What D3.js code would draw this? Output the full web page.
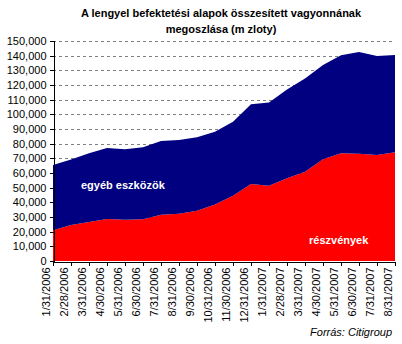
<!DOCTYPE html>
<html><head><meta charset="utf-8">
<script src="https://cdn.jsdelivr.net/npm/d3@7"></script>
<style>body{margin:0;background:#fff}svg{display:block}text{font-family:"Liberation Sans",Arial,sans-serif}</style>
</head><body>
<svg id="c" width="402" height="344"></svg>
<script>
const categories = ["1/31/2006","2/28/2006","3/31/2006","4/30/2006","5/31/2006","6/30/2006","7/31/2006","8/31/2006","9/30/2006","10/31/2006","11/30/2006","12/31/2006","1/31/2007","2/28/2007","3/31/2007","4/30/2007","5/31/2007","6/30/2007","7/31/2007","8/31/2007"];
const reszvenyek = [21000,24500,26600,28600,28200,28400,31600,32300,34300,38600,44500,52500,51300,56400,60900,69300,73400,73100,72300,74100];
const total = [65400,69200,73500,77000,76200,77500,81800,82500,84300,88200,95000,106900,108000,117000,124500,133600,140200,142500,139800,140400];
const egyeb = total.map((t,i)=>t-reszvenyek[i]);
const yTicks = d3.range(0,150001,10000);
const seriesNames = ["részvények","egyéb eszközök"];

const svg = d3.select("#c");
const x = d3.scalePoint().domain(categories).range([53,395]).padding(0);
const y = d3.scaleLinear().domain([0,150000]).range([261,41]);

// gridlines
svg.append("g").selectAll("line").data(yTicks.filter(d=>d>0)).join("line")
  .attr("x1",53).attr("x2",395).attr("y1",d=>Math.round(y(d))+0.5).attr("y2",d=>Math.round(y(d))+0.5)
  .attr("stroke","#808080").attr("stroke-dasharray","3,3").attr("shape-rendering","crispEdges");

const rows = categories.map((c,i)=>({cat:c, r:reszvenyek[i], e:egyeb[i]}));
const stack = d3.stack().keys(["r","e"])(rows);
const colors = ["#FF0000","#000080"];
const area = d3.area().x(d=>x(d.data.cat)).y0(d=>y(d[0])).y1(d=>y(d[1]));
svg.append("g").selectAll("path").data(stack).join("path")
  .attr("d",area).attr("fill",(d,i)=>colors[i]);

// y axis
const ya = svg.append("g").attr("transform","translate(53.5,0)")
  .call(d3.axisLeft(y).tickValues(yTicks).tickSize(4).tickPadding(3).tickFormat(d3.format(",")));
ya.selectAll("text").attr("font-size",11).attr("fill","#000").attr("font-family","Liberation Sans, Arial");
ya.select(".domain").attr("stroke","#000").attr("shape-rendering","crispEdges");
ya.selectAll(".tick line").attr("shape-rendering","crispEdges");

// x axis
const xa = svg.append("g").attr("transform","translate(0,261.5)")
  .call(d3.axisBottom(x).tickSize(4).tickSizeOuter(0));
xa.select(".domain").attr("stroke","#000").attr("shape-rendering","crispEdges");
xa.selectAll(".tick line").attr("shape-rendering","crispEdges");
xa.selectAll("text").attr("font-size",11).attr("fill","#000").attr("font-family","Liberation Sans, Arial")
  .attr("transform","rotate(-90)").attr("text-anchor","end").attr("dx","-6px").attr("dy","-0.6em").attr("y",0).attr("x",0)
  .attr("dominant-baseline","middle");

// title
const t = svg.append("text").attr("text-anchor","middle").attr("font-size",11).attr("font-weight","bold");
t.append("tspan").attr("x",221).attr("y",17).text("A lengyel befektetési alapok összesített vagyonnának");
t.append("tspan").attr("x",221).attr("y",33).text("megoszlása (m zloty)");

// series labels
svg.append("text").attr("x",81).attr("y",189).attr("fill","#fff").attr("font-size",11).attr("font-weight","bold").text(seriesNames[1]);
svg.append("text").attr("x",309).attr("y",244).attr("fill","#fff").attr("font-size",11).attr("font-weight","bold").text(seriesNames[0]);

svg.append("text").attr("x",392).attr("y",336).attr("text-anchor","end").attr("font-size",11).attr("font-style","italic").text("Forrás: Citigroup");
</script>
</body></html>
